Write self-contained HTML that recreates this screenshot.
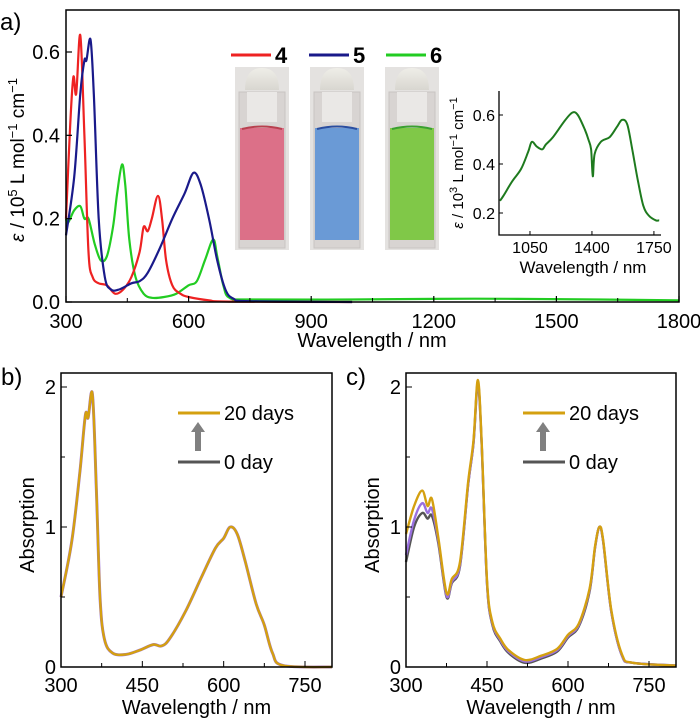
<!DOCTYPE html>
<html><head><meta charset="utf-8"><style>
body{margin:0;background:#fff;}
svg{display:block;font-family:"Liberation Sans",Arial,sans-serif;}
</style></head><body>
<svg id="fig" width="700" height="723" viewBox="0 0 700 723">
<defs>
<linearGradient id="capg" x1="0" y1="0" x2="0" y2="1"><stop offset="0" stop-color="#efeee8"/><stop offset="1" stop-color="#d8d6d0"/></linearGradient>
</defs>
<g id="pa"></g>
<g id="pb"></g>
<g id="pc"></g>
</svg>
<script>
// ---- Panel a data ----
const waveA4 = [300,310,318,325,335,345,355,365,380,400,420,440,460,480,490,500,510,525,535,545,560,580,600,650,700,1000];
const epsA4  = [0.2,0.42,0.54,0.5,0.64,0.4,0.12,0.06,0.045,0.04,0.02,0.03,0.06,0.12,0.18,0.17,0.2,0.255,0.2,0.1,0.04,0.02,0.012,0.004,0.001,0];
const waveA5 = [300,320,335,345,350,360,368,380,395,410,430,460,480,500,530,560,590,612,630,650,670,690,710,750,1000];
const epsA5  = [0.16,0.3,0.5,0.58,0.58,0.63,0.5,0.2,0.06,0.03,0.03,0.045,0.05,0.07,0.13,0.2,0.26,0.31,0.28,0.2,0.1,0.03,0.008,0.002,0];
const waveA6 = [300,305,320,335,345,355,370,385,400,415,425,437,445,455,470,490,510,540,570,600,620,640,660,670,685,700,750,1000,1300,1600,1800];
const epsA6  = [0.2,0.19,0.22,0.23,0.2,0.2,0.14,0.1,0.11,0.18,0.26,0.33,0.28,0.15,0.06,0.02,0.01,0.012,0.02,0.04,0.05,0.1,0.15,0.11,0.04,0.01,0.006,0.006,0.008,0.006,0.004];
const ticksAx = [300,600,900,1200,1500,1800];
const ticksAy = [0.0,0.2,0.4,0.6];
// inset
const waveIn = [880,900,950,1000,1040,1060,1090,1120,1140,1180,1250,1290,1320,1360,1380,1395,1405,1415,1450,1500,1540,1570,1600,1630,1660,1690,1720,1760,1780];
const epsIn  = [0.25,0.27,0.33,0.38,0.45,0.49,0.47,0.46,0.48,0.51,0.58,0.61,0.6,0.54,0.5,0.46,0.35,0.44,0.49,0.51,0.55,0.58,0.56,0.45,0.33,0.23,0.19,0.17,0.17];
const ticksInX = [1050,1400,1750];
const ticksInY = [0.2,0.4,0.6];
// ---- Panel b data ----
const waveB = [300,320,335,345,350,358,365,372,380,395,420,445,470,485,500,530,560,585,600,612,625,640,660,675,690,710,800];
const absB  = [0.5,0.9,1.4,1.8,1.78,1.95,1.3,0.5,0.2,0.1,0.09,0.12,0.16,0.15,0.2,0.4,0.65,0.85,0.92,1.0,0.95,0.75,0.45,0.3,0.1,0.01,0];
// ---- Panel c data ----
const waveC = [300,315,330,340,348,360,375,385,400,415,425,433,440,450,460,475,490,520,550,580,600,620,640,650,658,665,680,700,720,800];
const absC0 = [0.75,1.0,1.1,1.06,1.08,0.88,0.5,0.6,0.72,1.3,1.6,2.02,1.6,0.6,0.3,0.18,0.1,0.03,0.06,0.11,0.21,0.29,0.54,0.85,1.0,0.9,0.4,0.08,0.03,0.01];
const absC1 = [0.8,1.05,1.17,1.1,1.13,0.9,0.51,0.61,0.73,1.3,1.6,2.03,1.6,0.6,0.31,0.19,0.11,0.04,0.07,0.12,0.22,0.3,0.55,0.85,1.0,0.9,0.4,0.08,0.03,0.01];
const absC20= [0.95,1.15,1.26,1.15,1.2,0.92,0.53,0.63,0.75,1.32,1.62,2.05,1.62,0.62,0.32,0.2,0.12,0.05,0.08,0.13,0.23,0.31,0.56,0.86,1.0,0.91,0.41,0.09,0.03,0.01];
const ticksBx = [300,450,600,750];
const ticksBy = [0,1,2];

const NS="http://www.w3.org/2000/svg";
function mk(parent,tag,attrs,txt){const e=document.createElementNS(NS,tag);for(const k in attrs)e.setAttribute(k,attrs[k]);if(txt!==undefined)e.textContent=txt;parent.appendChild(e);return e;}
function lin(d0,d1,r0,r1){return v=>r0+(v-d0)*(r1-r0)/(d1-d0);}
function pathD(xs,ys,sx,sy){
  const p=xs.map((x,i)=>[sx(x),sy(ys[i])]);
  let d=`M${p[0][0].toFixed(1)},${p[0][1].toFixed(1)}`;
  for(let i=0;i<p.length-1;i++){
    const p0=p[i-1]||p[i],p1=p[i],p2=p[i+1],p3=p[i+2]||p2;
    const c1=[p1[0]+(p2[0]-p0[0])/6,p1[1]+(p2[1]-p0[1])/6];
    const c2=[p2[0]-(p3[0]-p1[0])/6,p2[1]-(p3[1]-p1[1])/6];
    d+=` C${c1[0].toFixed(1)},${c1[1].toFixed(1)} ${c2[0].toFixed(1)},${c2[1].toFixed(1)} ${p2[0].toFixed(1)},${p2[1].toFixed(1)}`;
  }
  return d;
}

// ===== Panel a =====
const A=document.getElementById('pa');
const ax=lin(300,1800,66,679), ay=lin(0,0.6,302,52);
let e;
e=mk(A,'text',{x:0,y:30,'font-size':24},'a)');


// curves
[[waveA6,epsA6,'#22cc22','curve-6'],[waveA4,epsA4,'#ee2222','curve-4'],[waveA5,epsA5,'#1a1a8a','curve-5']].forEach(s=>{
  const p=mk(A,'path',{d:pathD(s[0],s[1],ax,ay),fill:'none',stroke:s[2],'stroke-width':2.2});
  
  
});
e=mk(A,'rect',{x:66,y:10,width:613,height:292,fill:'none',stroke:'#000','stroke-width':1.5});


ticksAx.forEach(t=>{
  mk(A,'line',{x1:ax(t),x2:ax(t),y1:302,y2:296,stroke:'#000','stroke-width':1.2});
  e=mk(A,'text',{x:ax(t),y:328,'font-size':20,'text-anchor':'middle'},String(t));
  
  
});
[450,750,1050,1350,1650].forEach(t=>mk(A,'line',{x1:ax(t),x2:ax(t),y1:302,y2:298,stroke:'#000','stroke-width':1}));
ticksAy.forEach(t=>{
  mk(A,'line',{x1:66,x2:72,y1:ay(t),y2:ay(t),stroke:'#000','stroke-width':1.2});
  e=mk(A,'text',{x:60,y:ay(t)+7,'font-size':20,'text-anchor':'end'},t.toFixed(1));
  
  
});
e=mk(A,'text',{x:372,y:347,'font-size':20,'text-anchor':'middle'},'Wavelength / nm');


e=mk(A,'text',{x:0,y:0,'font-size':19,'text-anchor':'middle',transform:'translate(24,160) rotate(-90)'});
e.innerHTML='<tspan font-style="italic">ε</tspan> / 10<tspan dy="-7" font-size="13">5</tspan><tspan dy="7"> L mol</tspan><tspan dy="-7" font-size="13">−1</tspan><tspan dy="7"> cm</tspan><tspan dy="-7" font-size="13">−1</tspan>';


// legend
[[231,'#ee2222','4'],[309,'#1a1a8a','5'],[386,'#22cc22','6']].forEach(l=>{
  e=mk(A,'line',{x1:l[0],x2:l[0]+40,y1:55,y2:55,stroke:l[1],'stroke-width':3});
  
  
  e=mk(A,'text',{x:l[0]+44,y:63,'font-size':22,'font-weight':'bold'},l[2]);
  
  
});
// vials
[[235,'#dc7088','#b8404e','vial-4'],[310,'#6a9ad6','#2a4ea0','vial-5'],[385,'#80c848','#3aa030','vial-6']].forEach(v=>{
  const g=mk(A,'g',{});
  
  
  const x=v[0];
  mk(g,'rect',{x:x,y:67,width:54,height:183,fill:'#e4e2e0'});
  mk(g,'rect',{x:x+4,y:92,width:46,height:156,fill:'#d8d4d2',stroke:'#c8c4c2'});
  mk(g,'rect',{x:x+12,y:92,width:30,height:30,fill:'#eae8e6'});
  mk(g,'path',{d:`M${x+10},90 Q${x+10},68 ${x+27},68 Q${x+44},68 ${x+44},90 Z`,fill:'url(#capg)'});
  mk(g,'rect',{x:x+5,y:128,width:44,height:112,fill:v[1]});
  mk(g,'path',{d:`M${x+7},129 Q${x+27},124 ${x+47},129`,fill:'none',stroke:v[2],'stroke-width':2});
});
// inset
const ix=lin(875,1790,499,661), iy=lin(0.2,0.6,213,115);
e=mk(A,'path',{d:pathD(waveIn,epsIn,ix,iy),fill:'none',stroke:'#1e7a1e','stroke-width':2});


mk(A,'path',{d:'M499,91 L499,235 L661,235',fill:'none',stroke:'#000','stroke-width':1.3});
ticksInX.forEach(t=>{
  mk(A,'line',{x1:ix(t),x2:ix(t),y1:235,y2:231,stroke:'#000'});
  e=mk(A,'text',{x:ix(t),y:253,'font-size':16,'text-anchor':'middle'},String(t));
  
  
});
ticksInY.forEach(t=>{
  mk(A,'line',{x1:499,x2:503,y1:iy(t),y2:iy(t),stroke:'#000'});
  e=mk(A,'text',{x:495,y:iy(t)+6,'font-size':16,'text-anchor':'end'},t.toFixed(1));
  
  
});
e=mk(A,'text',{x:583,y:273,'font-size':17,'text-anchor':'middle'},'Wavelength / nm');


e=mk(A,'text',{x:0,y:0,'font-size':15,'text-anchor':'middle',transform:'translate(463,163) rotate(-90)'});
e.innerHTML='<tspan font-style="italic">ε</tspan> / 10<tspan dy="-6" font-size="11">3</tspan><tspan dy="6"> L mol</tspan><tspan dy="-6" font-size="11">−1</tspan><tspan dy="6"> cm</tspan><tspan dy="-6" font-size="11">−1</tspan>';



// ===== Panels b & c =====
function panel(G,left,right,x300,x750,label,series,name){
  const sx=lin(300,750,x300,x750), sy=lin(0,2,667,387);
  e=mk(G,'text',{x:left-60,y:385,'font-size':24},label);
  
  
  series.forEach(s=>{
    const p=mk(G,'path',{d:pathD(s[0],s[1],sx,sy),fill:'none',stroke:s[2],'stroke-width':s[3]});
    
    
  });
  e=mk(G,'rect',{x:left,y:373,width:right-left,height:294,fill:'none',stroke:'#000','stroke-width':1.5});
  
  
  ticksBx.forEach(t=>{
    mk(G,'line',{x1:sx(t),x2:sx(t),y1:667,y2:661,stroke:'#000'});
    e=mk(G,'text',{x:sx(t),y:692,'font-size':20,'text-anchor':'middle'},String(t));
    
    
  });
  [375,525,675].forEach(t=>mk(G,'line',{x1:sx(t),x2:sx(t),y1:667,y2:663,stroke:'#000'}));
  ticksBy.forEach(t=>{
    mk(G,'line',{x1:left,x2:left+6,y1:sy(t),y2:sy(t),stroke:'#000'});
    e=mk(G,'text',{x:left-5,y:sy(t)+7,'font-size':20,'text-anchor':'end'},String(t));
    
    
  });
  [0.5,1.5].forEach(t=>mk(G,'line',{x1:left,x2:left+4,y1:sy(t),y2:sy(t),stroke:'#000'}));
  e=mk(G,'text',{x:(left+right)/2,y:714,'font-size':20,'text-anchor':'middle'},'Wavelength / nm');
  
  
  e=mk(G,'text',{x:0,y:0,'font-size':20,'text-anchor':'middle',transform:`translate(${left-27},525) rotate(-90)`},'Absorption');
  
  
  // legend
  const lx=left+117;
  e=mk(G,'line',{x1:lx,x2:lx+42,y1:413,y2:413,stroke:'#d4a010','stroke-width':3});
  
  
  e=mk(G,'text',{x:lx+46,y:420,'font-size':20},'20 days');
  
  
  e=mk(G,'path',{d:`M${lx+17},451 L${lx+17},432 L${lx+13},432 L${lx+20},422 L${lx+27},432 L${lx+23},432 L${lx+23},451 Z`,fill:'#808080'});
  
  
  e=mk(G,'line',{x1:lx,x2:lx+42,y1:462,y2:462,stroke:'#555','stroke-width':3});
  
  
  e=mk(G,'text',{x:lx+46,y:469,'font-size':20},'0 day');
  
  
}
panel(document.getElementById('pb'),61,332,61,305,'b)',[
  [waveB,absB,'#9a70e0',3,'curve-b-mid'],
  [waveB,absB,'#d4a010',2.4,'curve-b-20-days']
],'panel-b');
panel(document.getElementById('pc'),406,676,406,649,'c)',[
  [waveC,absC0,'#555',2.4,'curve-c-0-day'],
  [waveC,absC1,'#9a70e0',2.4,'curve-c-mid'],
  [waveC,absC20,'#d4a010',2.4,'curve-c-20-days']
],'panel-c');
</script>
</body></html>
